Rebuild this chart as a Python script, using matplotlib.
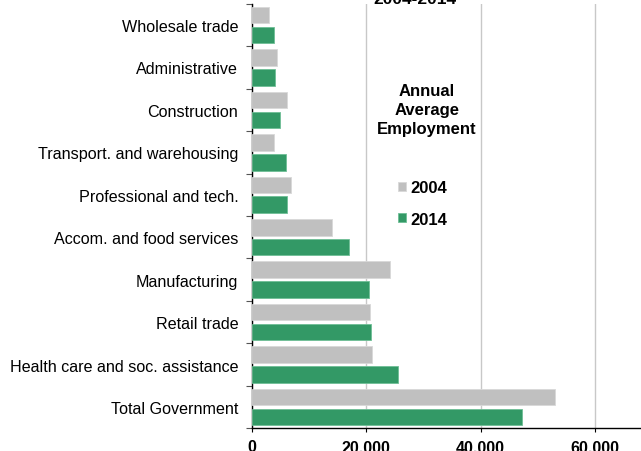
import numpy as np
import matplotlib
matplotlib.use("Agg")
import matplotlib.pyplot as plt

plt.rcParams['font.family'] = ['Liberation Sans', 'DejaVu Sans']

industries = ["Wholesale trade", "Administrative", "Construction",
              "Transport. and warehousing", "Professional and tech.",
              "Accom. and food services", "Manufacturing", "Retail trade",
              "Health care and soc. assistance", "Total Government"]
emp_2004 = [3050, 4500, 6200, 3950, 6850, 14050, 24250, 20750, 21100, 53000]
emp_2014 = [3950, 4150, 5050, 6100, 6250, 17100, 20600, 20900, 25550, 47200]
x_ticks = [0, 20000, 40000, 60000]
x_labels = ["0", "20,000", "40,000", "60,000"]

gray = "#C0C0C0"
green = "#339966"

fig = plt.figure(figsize=(6.41, 4.52), dpi=100)
ax = fig.add_axes([0.3924, 0.0502, 400.75 / 641, 0.9394])

y = np.arange(len(industries))
ax.barh(y - 0.235, emp_2004, height=0.39, color=gray, edgecolor="#D8D8D8",
        linewidth=0.6, label="2004", zorder=3)
ax.barh(y + 0.235, emp_2014, height=0.39, color=green, edgecolor="#6FBF96",
        linewidth=0.6, label="2014", zorder=3)

ax.set_ylim(len(industries) - 0.5, -0.5)
ax.set_xlim(0, 70000)

ax.set_yticks(y)
ax.set_yticklabels(industries, fontsize=11.6)
ax.set_yticks(np.arange(len(industries) + 1) - 0.5, minor=True)
ax.tick_params(axis="y", which="major", length=0, pad=9.5)
ax.tick_params(axis="y", which="minor", length=4, width=0.8, color="#555555")

ax.set_xticks(x_ticks)
ax.set_xticklabels(x_labels, fontsize=11.6, fontweight="bold")
ax.tick_params(axis="x", length=3, width=0.8, pad=5)

ax.grid(axis="x", color="#C8C8C8", linewidth=1.0, zorder=0)
for s in ["top", "right"]:
    ax.spines[s].set_visible(False)
ax.spines["left"].set_linewidth(1.0)
ax.spines["bottom"].set_linewidth(1.0)

fig.text(0.648, 1 - 4 / 452, "2004-2014", ha="center", va="baseline",
         fontsize=12.5, fontweight="bold")
fig.text(0.666, 1 - 110.5 / 452, "Annual\nAverage\nEmployment", ha="center",
         va="center", fontsize=12, fontweight="bold", linespacing=1.35)

ax.legend(loc="center", bbox_to_anchor=(423 / 641, 1 - 204.5 / 452),
          bbox_transform=fig.transFigure, frameon=False,
          prop={"weight": "bold", "size": 12}, handlelength=0.45,
          handleheight=0.45, handletextpad=0.3, labelspacing=1.0)

fig.savefig("out.png", dpi=100)
